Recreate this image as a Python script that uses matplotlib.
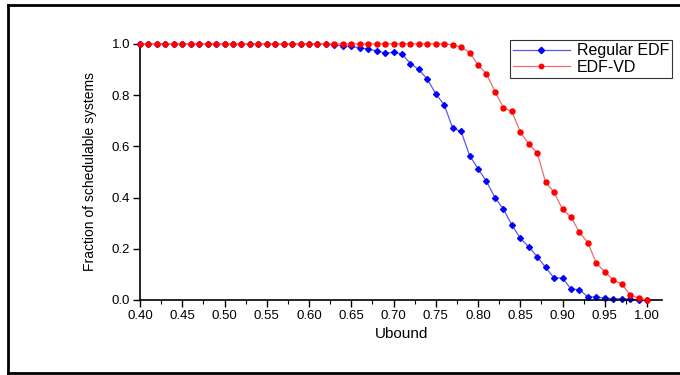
import numpy as np
import matplotlib
matplotlib.use("Agg")
import matplotlib.pyplot as plt
from matplotlib.lines import Line2D
from matplotlib.ticker import MultipleLocator

plt.rcParams['font.family'] = ['Liberation Sans', 'DejaVu Sans']

# Ubound sampled every 0.01 from 0.40 to 1.00
ubound = np.round(np.arange(0.40, 1.0001, 0.01), 2)

regular_edf = [1.0] * 23 + [
    0.995, 0.993, 0.99, 0.985, 0.98, 0.973, 0.964, 0.967, 0.961, 0.923,
    0.90, 0.862, 0.805, 0.762, 0.671, 0.658, 0.564, 0.513, 0.463, 0.40,
    0.355, 0.293, 0.241, 0.208, 0.169, 0.127, 0.086, 0.086, 0.043, 0.04,
    0.012, 0.012, 0.007, 0.005, 0.005, 0.003, 0.0, 0.0]

edf_vd = [1.0] * 37 + [
    0.996, 0.987, 0.966, 0.918, 0.883, 0.814, 0.751, 0.736, 0.657, 0.609,
    0.575, 0.46, 0.42, 0.354, 0.324, 0.264, 0.224, 0.143, 0.111, 0.078,
    0.0625, 0.02, 0.007, 0.0]

fig = plt.figure(figsize=(6.8, 3.75), dpi=100)
ax = fig.add_axes([0.2059, 0.2, 0.768, 0.683])

ax.plot(ubound, regular_edf, color='#5a5ae6', lw=0.9, marker='D', ms=3.0,
        mfc='#0000ff', mec='#0000ff', label='Regular EDF', clip_on=False, zorder=2)
ax.plot(ubound, edf_vd, color='#f06a6a', lw=0.9, marker='o', ms=3.6,
        mfc='#ff0000', mec='#ff0000', label='EDF-VD', clip_on=False, zorder=3)

ax.set_xlim(0.40, 1.018)
ax.set_ylim(0.0, 1.0)
ax.xaxis.set_minor_locator(MultipleLocator(0.025))
ax.yaxis.set_major_locator(MultipleLocator(0.2))
ax.set_xticks(np.round(np.arange(0.40, 1.001, 0.05), 2))
ax.xaxis.set_major_formatter(matplotlib.ticker.FormatStrFormatter('%.2f'))
ax.yaxis.set_major_formatter(matplotlib.ticker.FormatStrFormatter('%.1f'))

for side in ['top', 'right']:
    ax.spines[side].set_visible(False)
for side in ['left', 'bottom']:
    ax.spines[side].set_linewidth(1.2)
ax.tick_params(which='major', direction='out', length=5, width=1.0, labelsize=9.5, pad=2)
ax.tick_params(which='minor', direction='out', length=3, width=0.8)

ax.set_xlabel('Ubound', fontsize=11, labelpad=4)
ax.set_ylabel('Fraction of schedulable systems', fontsize=10, labelpad=11)

leg = ax.legend(loc='upper right', bbox_to_anchor=(1.019, 1.015), fontsize=11.5,
                frameon=True, fancybox=False, borderpad=0.2, handlelength=3.6,
                labelspacing=0.1, handletextpad=0.4, borderaxespad=0.0)
leg.get_frame().set_edgecolor('black')
leg.get_frame().set_linewidth(0.8)
for h in leg.legend_handles:
    h.set_markersize(3.2)

# outer frame (top, left and bottom edges)
kw = dict(color='black', lw=2.0, transform=fig.transFigure)
fig.add_artist(Line2D([0.012, 1.0], [0.987, 0.987], **kw))
fig.add_artist(Line2D([0.012, 0.012], [0.005, 0.987], **kw))
fig.add_artist(Line2D([0.012, 1.0], [0.006, 0.006], **kw))

fig.savefig('out.png', dpi=100)
